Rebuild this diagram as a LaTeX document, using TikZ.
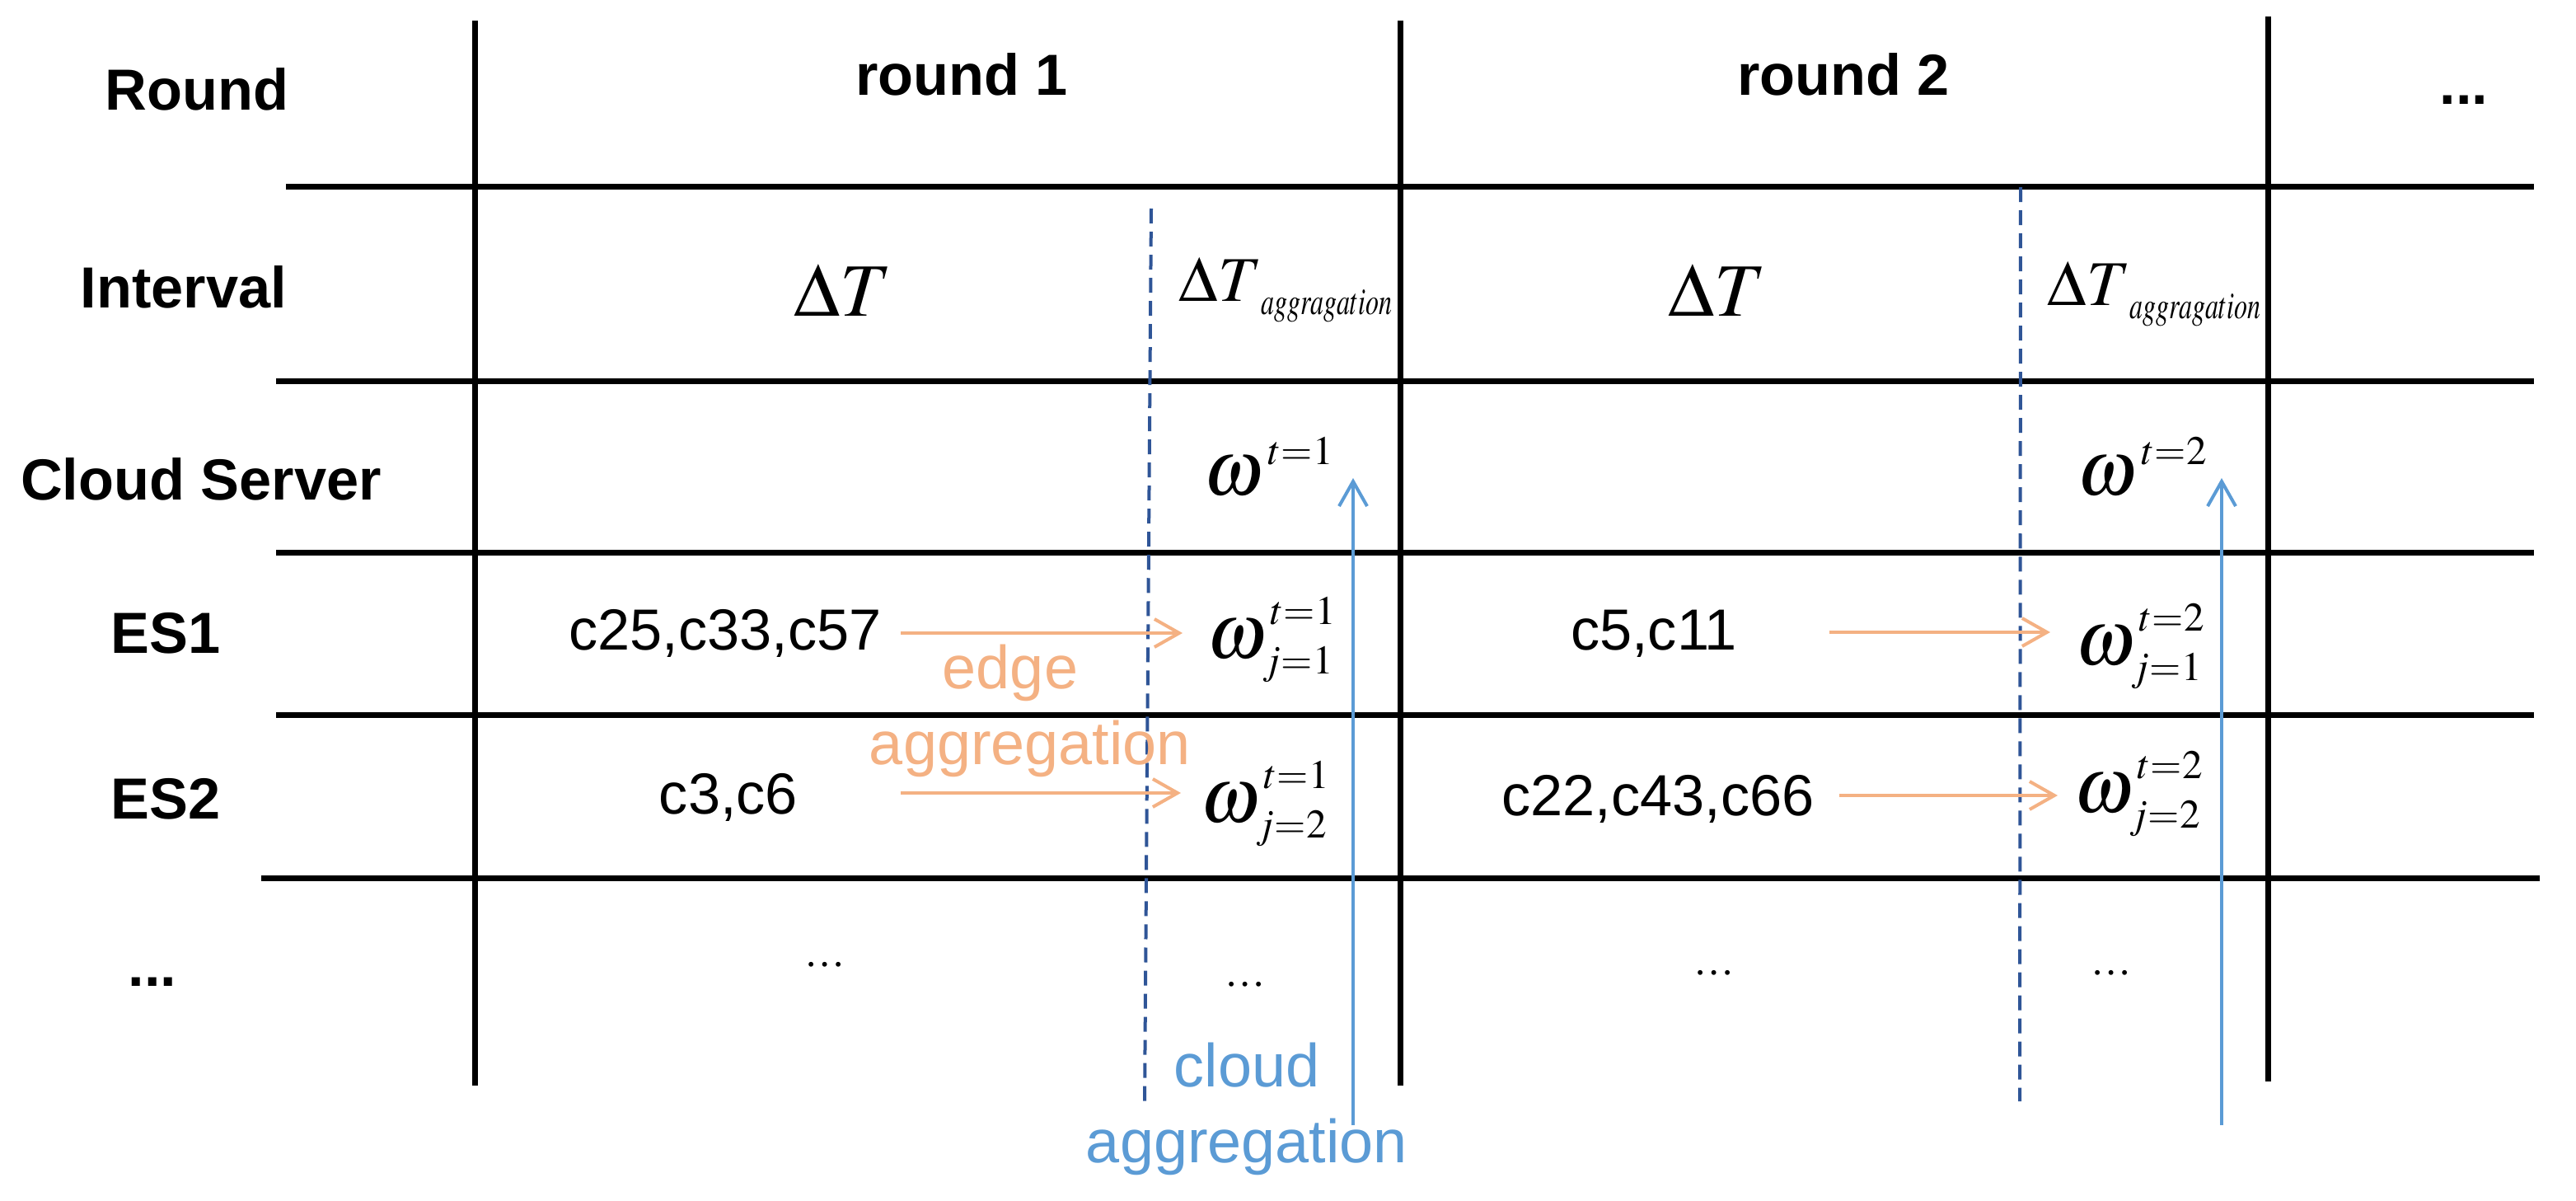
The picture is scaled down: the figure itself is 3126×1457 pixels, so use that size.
\documentclass[tikz,border=0pt]{standalone}
\usepackage{mathptmx}
\usepackage{graphicx}
\usepackage[no-math]{fontspec}
\newfontfamily\labfont{Liberation Sans}
\newfontfamily\serfont{Liberation Serif}
\usetikzlibrary{arrows.meta}
\DeclareMathSizes{27}{27}{14}{10}
\DeclareMathSizes{26}{26}{18}{13}
\DeclareMathSizes{22}{22}{13}{10}
\definecolor{edgeor}{HTML}{F4B183}
\definecolor{cloudbl}{HTML}{5B9BD5}
\definecolor{dashbl}{HTML}{2F5597}
% omega with stacked super- and subscript
\newcommand{\wss}[2]{$\omega\rlap{\hspace{1.2pt}\raisebox{11.5pt}{$\scriptstyle #1$}}\mkern-1mu\raisebox{-5.4pt}{$\scriptstyle #2$}$}
\newcommand{\wsp}[1]{$\omega\mkern1mu\raisebox{10.5pt}{$\scriptstyle #1$}$}
\newcommand{\dtagg}{$\Delta T$\raisebox{-4.8pt}{\scalebox{0.7}[1]{$\scriptstyle aggragation$}}}
\begin{document}
\begin{tikzpicture}[x=0.01cm,y=-0.01cm,
  grid/.style={line width=0.07cm, black},
  sepline/.style={line width=0.04cm, dashbl, dash pattern=on 0.18cm off 0.1cm},
  hdr/.style={font=\labfont\bfseries\fontsize{20}{24}\selectfont, inner sep=0, anchor=base},
  cell/.style={font=\labfont\fontsize{20}{24}\selectfont, inner sep=0, anchor=base},
  dotcell/.style={font=\serfont\fontsize{14}{16}\selectfont, inner sep=0, anchor=base},
  bigdt/.style={font=\fontsize{26}{30}\selectfont, inner sep=0, anchor=base},
  smalldt/.style={font=\fontsize{22}{26}\selectfont, inner sep=0, anchor=base west},
  wnode/.style={font=\fontsize{27}{30}\selectfont, inner sep=0, anchor=base west},
  edgelbl/.style={font=\labfont\fontsize{21}{25}\selectfont, text=edgeor, inner sep=0, anchor=base},
  cloudlbl/.style={font=\labfont\fontsize{21}{25}\selectfont, text=cloudbl, inner sep=0, anchor=base},
  edgearr/.style={line width=0.04cm, edgeor, -{Straight Barb[length=0.3cm,width=0.34cm,line width=0.04cm]}},
  cloudarr/.style={line width=0.04cm, cloudbl, -{Straight Barb[length=0.3cm,width=0.34cm,line width=0.04cm]}}
]
\useasboundingbox (0,0) rectangle (3126,1457);

% grid lines
\draw[grid] (576,25) -- (576,1317);
\draw[grid] (1699,25) -- (1699,1317);
\draw[grid] (2752,20) -- (2752,1312);
\draw[grid] (347,226) -- (3075,226);
\draw[grid] (335,462) -- (3075,462);
\draw[grid] (335,670) -- (3075,670);
\draw[grid] (335,867) -- (3075,867);
\draw[grid] (317,1065) -- (3082,1065);

% dashed separators
\draw[sepline] (1397,253) -- (1389,1340);
\draw[sepline] (2452,227) -- (2451,1336);

% row headers
\node[hdr] (hround) at (239,133) {Round};
\node[hdr] (hint) at (223,373) {Interval};
\node[hdr] (hcloud) at (244,606) {Cloud Server};
\node[hdr] (hes1) at (201,792) {ES1};
\node[hdr] (hes2) at (201,993) {ES2};
\node[hdr] (hmore) at (185,1196) {...};

% column headers
\node[hdr] (r1) at (1167,115) {round 1};
\node[hdr] (r2) at (2237,115) {round 2};
\node[hdr] (rmore) at (2990,126) {...};

% intervals
\node[bigdt] (dt1) at (1023,383) {$\Delta T$};
\node[bigdt] (dt2) at (2084,383) {$\Delta T$};
\node[smalldt] (dta1) at (1430,365) {\dtagg};
\node[smalldt] (dta2) at (2484,370) {\dtagg};

% cloud server
\node[wnode] (wc1) at (1460,600) {\wsp{t=1}};
\node[wnode] (wc2) at (2520,600) {\wsp{t=2}};

% ES rows
\node[cell] (c1a) at (880,788) {c25,c33,c57};
\node[cell] (c1b) at (2007,788) {c5,c11};
\node[cell] (c2a) at (884,987) {c3,c6};
\node[cell] (c2b) at (2012,989) {c22,c43,c66};

\node[wnode] (w11) at (1464,798) {\wss{t=1}{j=1}};
\node[wnode] (w12) at (1456,997) {\wss{t=1}{j=2}};
\node[wnode] (w21) at (2518,806) {\wss{t=2}{j=1}};
\node[wnode] (w22) at (2516,985) {\wss{t=2}{j=2}};

% dots row
\node[dotcell] (d1) at (1001,1172) {…};
\node[dotcell] (d2) at (1511,1196) {…};
\node[dotcell] (d3) at (2080,1182) {…};
\node[dotcell] (d4) at (2562,1182) {…};

% edge aggregation arrows
\coordinate (e1s) at (1093,768); \coordinate (e1t) at (1435,768);
\coordinate (e2s) at (1093,962); \coordinate (e2t) at (1433,962);
\coordinate (e3s) at (2220,767); \coordinate (e3t) at (2488,767);
\coordinate (e4s) at (2232,965); \coordinate (e4t) at (2497,965);
\draw[edgearr] (e1s) -- (e1t);
\draw[edgearr] (e2s) -- (e2t);
\draw[edgearr] (e3s) -- (e3t);
\draw[edgearr] (e4s) -- (e4t);
\node[edgelbl] (elbl1) at (1226,835) {edge};
\node[edgelbl] (elbl2) at (1250,927) {aggregation};

% cloud aggregation arrows
\coordinate (cb1) at (1642,1365); \coordinate (ct1) at (1642,580);
\coordinate (cb2) at (2696,1365); \coordinate (ct2) at (2696,580);
\draw[cloudarr] (cb1) -- (ct1);
\draw[cloudarr] (cb2) -- (ct2);
\node[cloudlbl] (clbl1) at (1513,1318) {cloud};
\node[cloudlbl] (clbl2) at (1513,1410) {aggregation};
\end{tikzpicture}
\end{document}
